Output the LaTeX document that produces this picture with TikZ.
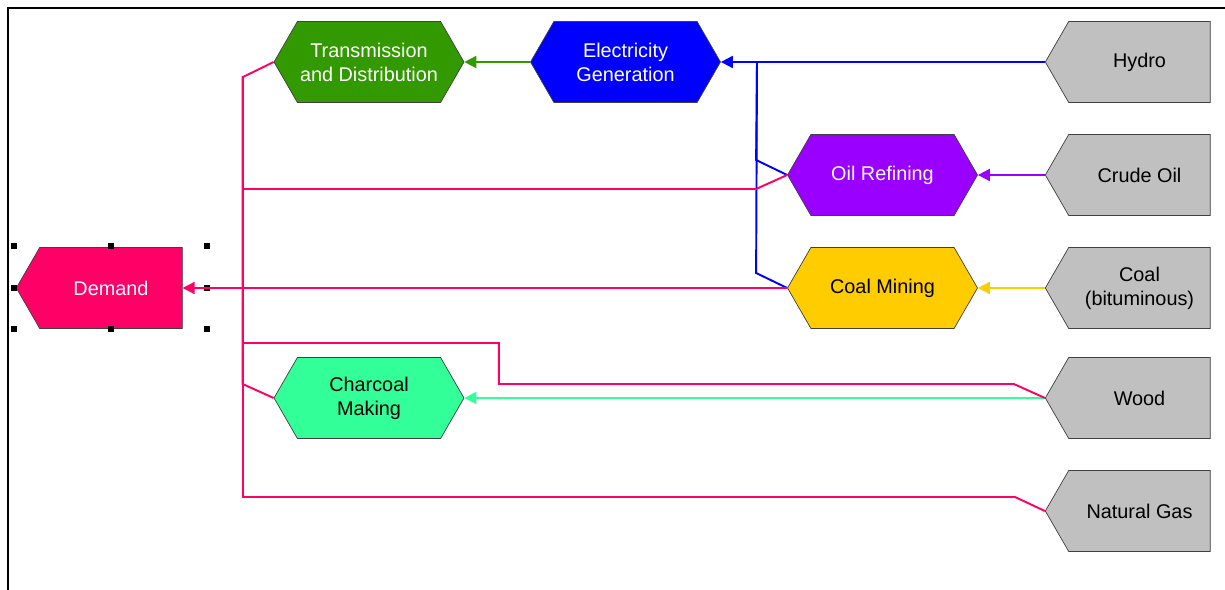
\documentclass[tikz,border=0pt]{standalone}
\usepackage{fontspec}
\setmainfont{Liberation Sans}
\usetikzlibrary{shapes.symbols,arrows.meta}
\definecolor{demandpink}{HTML}{FF0066}
\definecolor{elecblue}{HTML}{0000FF}
\definecolor{tdgreen}{HTML}{339900}
\definecolor{oilpurple}{HTML}{9900FF}
\definecolor{coalyellow}{HTML}{FFCC00}
\definecolor{charmint}{HTML}{33FF99}
\definecolor{resgray}{HTML}{C0C0C0}
\tikzset{
    proc/.style={draw=black!75,signal,signal to=east and west,signal pointer angle=120,
        minimum width=3.8cm,minimum height=1.62cm,inner sep=0pt,align=center,
        font=\fontsize{11.3}{13.6}\selectfont},
    res/.style={draw=black!75,fill=resgray,signal,signal to=west,signal pointer angle=120,
        minimum width=3.3cm,minimum height=1.62cm,inner sep=0pt,align=center,
        font=\fontsize{11.3}{13.6}\selectfont},
    link/.style={line width=1.1pt},
    flow/.style={line width=1.1pt,-{Triangle[length=6.8pt,width=6.8pt]}}
}

\begin{document}
\begin{tikzpicture}[x=0.02cm,y=-0.02cm]
\useasboundingbox (0,0) rectangle (1225,590);
\draw[line width=1.2pt] (8,590) -- (8,8) -- (1225,8);
\node[res,fill=demandpink,text=white,minimum width=3.32cm] (demand) at (111,288) {Demand};
\foreach \p in {{14,246},{111,246},{207,246},{14,288},{207,288},{14,329},{111,329},{207,329}}
    \fill (\p) +(-3,-3) rectangle +(3,3);
\node[proc,fill=tdgreen,text=white] (td) at (369,62) {Transmission\\and Distribution};
\node[proc,fill=elecblue,text=white] (elec) at (625.5,62) {Electricity\\Generation};
\node[proc,fill=oilpurple,text=white] (oil) at (882.5,175) {Oil Refining};
\node[proc,fill=coalyellow] (coal) at (882.5,288) {Coal Mining};
\node[proc,fill=charmint] (char) at (369,398) {Charcoal\\Making};
\node[res] (hydro) at (1139.5,62) {Hydro};
\node[res] (crude) at (1139.5,175) {Crude Oil};
\node[res] (coalres) at (1139.5,288) {Coal\\(bituminous)};
\node[res] (wood) at (1139.5,398) {Wood};
\node[res] (gas) at (1139.5,511) {Natural Gas};
\coordinate (ejoin) at (757,62);
\coordinate (tdbend) at (243,77);
\draw[flow,elecblue] (hydro.west) -- (elec.east);
\draw[link,elecblue] (oil.west) -- ++(-31,-15) -- (ejoin);
\draw[link,elecblue] (coal.west) -- ++(-31,-15) -- (ejoin);
\draw[flow,tdgreen] (elec.west) -- (td.east);
\draw[flow,oilpurple] (crude.west) -- (oil.east);
\draw[flow,coalyellow] (coalres.west) -- (coal.east);
\draw[flow,charmint] (wood.west) -- (char.east);
\draw[link,demandpink] (td.west) -- (tdbend) |- ++(772,420) -- (gas.west);
\draw[link,demandpink] (oil.west) -- ++(-31,14) -| (tdbend);
\draw[link,demandpink] (char.west) -- ++(-31,-14) |- (tdbend);
\draw[link,demandpink] (wood.west) -- ++(-31,-14) -- ++(-515,0) -- ++(0,-41) -| (tdbend);
\draw[flow,demandpink] (coal.west) -- (demand.east);
\end{tikzpicture}
\end{document}
